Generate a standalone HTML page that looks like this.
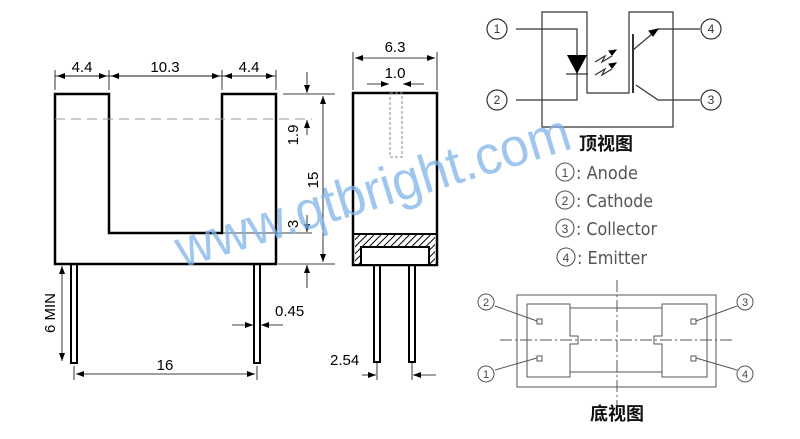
<!DOCTYPE html>
<html><head><meta charset="utf-8"><style>body{margin:0;background:#fff}svg{display:block}</style></head><body>
<svg width="800" height="439" viewBox="0 0 800 439" xmlns="http://www.w3.org/2000/svg" font-family="Liberation Sans, Noto Sans CJK SC, sans-serif">
<defs>
<marker id="a" markerWidth="8" markerHeight="6" refX="8" refY="3" orient="auto-start-reverse" markerUnits="userSpaceOnUse"><path d="M0,0 L8,3 L0,6z" fill="#000"/></marker>
<pattern id="h" width="5" height="5" patternUnits="userSpaceOnUse" patternTransform="rotate(45)"><rect width="5" height="5" fill="#fff"/><line x1="0" y1="0" x2="0" y2="5" stroke="#000" stroke-width="2"/></pattern>
</defs>
<g fill="none" stroke="#000">
<path d="M55,94 H109 V233 H222 V94 H276 V264 H55 Z" stroke-width="2.5"/>
<line x1="55" y1="119" x2="312" y2="119" stroke="#999" stroke-dasharray="10,6"/>
<rect x="71" y="264" width="6" height="99" stroke-width="2"/>
<rect x="254" y="264" width="6" height="99" stroke-width="2"/>
<g stroke-width="0.8">
<line x1="55" y1="70" x2="55" y2="90"/><line x1="109" y1="70" x2="109" y2="90"/><line x1="222" y1="70" x2="222" y2="90"/><line x1="276" y1="70" x2="276" y2="90"/>
<line x1="55" y1="76" x2="276" y2="76"/>
<line x1="57" y1="76" x2="107" y2="76" marker-start="url(#a)" marker-end="url(#a)"/>
<line x1="111" y1="76" x2="220" y2="76" marker-start="url(#a)" marker-end="url(#a)"/>
<line x1="224" y1="76" x2="274" y2="76" marker-start="url(#a)" marker-end="url(#a)"/>
<line x1="283" y1="94" x2="335" y2="94"/><line x1="222" y1="233" x2="312" y2="233"/><line x1="278" y1="264" x2="335" y2="264"/>
<line x1="323" y1="96" x2="323" y2="262" marker-start="url(#a)" marker-end="url(#a)"/>
<line x1="307" y1="72" x2="307" y2="93" marker-end="url(#a)"/><line x1="307" y1="135" x2="307" y2="120" marker-end="url(#a)"/>
<line x1="307" y1="215" x2="307" y2="232" marker-end="url(#a)"/><line x1="307" y1="288" x2="307" y2="265" marker-end="url(#a)"/>
<line x1="62" y1="266" x2="62" y2="361" marker-start="url(#a)" marker-end="url(#a)"/>
<line x1="232" y1="325" x2="253" y2="325" marker-end="url(#a)"/><line x1="283" y1="325" x2="261" y2="325" marker-end="url(#a)"/>
<line x1="74" y1="366" x2="74" y2="380"/><line x1="257" y1="366" x2="257" y2="380"/>
<line x1="76" y1="374" x2="255" y2="374" marker-start="url(#a)" marker-end="url(#a)"/>
</g>
<rect x="353" y="93" width="84" height="172" stroke-width="2.5"/>
<rect x="355" y="234" width="80" height="30" fill="url(#h)" stroke="none"/>
<line x1="353" y1="234" x2="437" y2="234" stroke-width="2"/>
<rect x="361" y="247" width="68" height="18" fill="#fff" stroke-width="2"/>
<rect x="390" y="93" width="12" height="64" stroke="#888" stroke-dasharray="3,2"/>
<rect x="374" y="265" width="6" height="97" stroke-width="2"/>
<rect x="409" y="265" width="6" height="97" stroke-width="2"/>
<g stroke-width="0.8">
<line x1="353" y1="52" x2="353" y2="90"/><line x1="437" y1="52" x2="437" y2="90"/>
<line x1="355" y1="58" x2="435" y2="58" marker-start="url(#a)" marker-end="url(#a)"/>
<line x1="367" y1="84" x2="389" y2="84" marker-end="url(#a)"/><line x1="424" y1="84" x2="403" y2="84" marker-end="url(#a)"/>
<line x1="362" y1="375" x2="376" y2="375" marker-end="url(#a)"/><line x1="436" y1="375" x2="413" y2="375" marker-end="url(#a)"/>
<line x1="377" y1="363" x2="377" y2="380"/><line x1="412" y1="363" x2="412" y2="380"/>
</g>
<g stroke="#333" stroke-width="1.2">
<path d="M542,12 H587 V93 H629 V12 H673 V127 H542 Z"/>
<circle cx="497" cy="29" r="10"/><circle cx="497" cy="100" r="10"/><circle cx="711" cy="29" r="10"/><circle cx="711" cy="100" r="10"/>
<path d="M516,29 H577 V100 H516"/>
<line x1="566" y1="74" x2="588" y2="74"/>
<line x1="633" y1="34" x2="633" y2="93" stroke-width="2"/>
<path d="M633,50 L658,29 H700"/><path d="M636,85 L658,100 H700"/>
<path d="M595,62 l10,-6 -3,6 10,-6" /><path d="M595,75 l10,-6 -3,6 10,-6"/>
</g>
<path d="M567,55 H587 L577,74 Z" fill="#000" stroke="none"/>
<path d="M658,29 l-9,2 4,5z M616,50 l-7,1 3,4z M616,63 l-7,1 3,4z" fill="#000" stroke="#000"/>
<g stroke="#555" stroke-width="1">
<rect x="517" y="295" width="199" height="92"/>
<path d="M527,304 H570 V336 H578 V344 H570 V377 H527 Z"/>
<path d="M707,304 H662 V336 H654 V344 H662 V377 H707 Z"/>
<line x1="570" y1="308" x2="662" y2="308"/><line x1="570" y1="372" x2="662" y2="372"/>
<rect x="537" y="319" width="5" height="5"/><rect x="537" y="356" width="5" height="5"/><rect x="691" y="319" width="5" height="5"/><rect x="691" y="356" width="5" height="5"/>
<circle cx="486" cy="302" r="8"/><circle cx="745" cy="302" r="8"/><circle cx="486" cy="374" r="8"/><circle cx="745" cy="374" r="8"/>
<line x1="495" y1="306" x2="537" y2="321"/><line x1="495" y1="370" x2="537" y2="358"/><line x1="737" y1="306" x2="696" y2="321"/><line x1="737" y1="370" x2="696" y2="358"/>
<line x1="500" y1="340" x2="735" y2="340" stroke-dasharray="12,3,2,3"/>
<line x1="617" y1="280" x2="617" y2="405" stroke-dasharray="12,3,2,3"/>
</g>
<g stroke="#555" stroke-width="1.1">
<circle cx="565" cy="172" r="9"/><circle cx="565" cy="200" r="9"/><circle cx="565" cy="228" r="9"/><circle cx="566" cy="257" r="9"/>
</g>
</g>
<g font-size="15" fill="#000">
<text x="82" y="72" text-anchor="middle">4.4</text><text x="165" y="72" text-anchor="middle">10.3</text><text x="249" y="72" text-anchor="middle">4.4</text>
<text transform="translate(298,135) rotate(-90)" text-anchor="middle">1.9</text>
<text transform="translate(318,180) rotate(-90)" text-anchor="middle">15</text>
<text transform="translate(298,224) rotate(-90)" text-anchor="middle">3</text>
<text transform="translate(55,313) rotate(-90)" text-anchor="middle">6 MIN</text>
<text x="275" y="316">0.45</text><text x="165" y="370" text-anchor="middle">16</text>
<text x="395" y="52" text-anchor="middle">6.3</text><text x="395" y="78" text-anchor="middle">1.0</text>
<text x="330" y="365">2.54</text>
</g>
<g font-size="12" fill="#333" text-anchor="middle"><text x="497" y="33">1</text><text x="497" y="104">2</text><text x="711" y="33">4</text><text x="711" y="104">3</text></g>
<g font-size="11" fill="#444" text-anchor="middle"><text x="486" y="306">2</text><text x="745" y="306">3</text><text x="486" y="378">1</text><text x="745" y="378">4</text></g>
<g font-size="12" fill="#444" text-anchor="middle"><text x="565" y="177">1</text><text x="565" y="205">2</text><text x="565" y="233">3</text><text x="566" y="262">4</text></g>
<g font-size="18" font-weight="bold" fill="#111" text-anchor="middle"><text x="606" y="150">顶视图</text><text x="617" y="420">底视图</text></g>
<g font-size="18" fill="#555" font-family="DejaVu Sans Condensed, Liberation Sans Narrow, sans-serif">
<text x="576" y="179" textLength="62" lengthAdjust="spacingAndGlyphs">: Anode</text>
<text x="576" y="207" textLength="77" lengthAdjust="spacingAndGlyphs">: Cathode</text>
<text x="576" y="235" textLength="81" lengthAdjust="spacingAndGlyphs">: Collector</text>
<text x="577" y="264" textLength="70" lengthAdjust="spacingAndGlyphs">: Emitter</text>
</g>
<text x="182" y="268" font-size="54" fill="#7fb3e8" fill-opacity="0.75" transform="rotate(-17 182 268)" textLength="410" lengthAdjust="spacingAndGlyphs">www.qtbright.com</text>
</svg>
</body></html>
